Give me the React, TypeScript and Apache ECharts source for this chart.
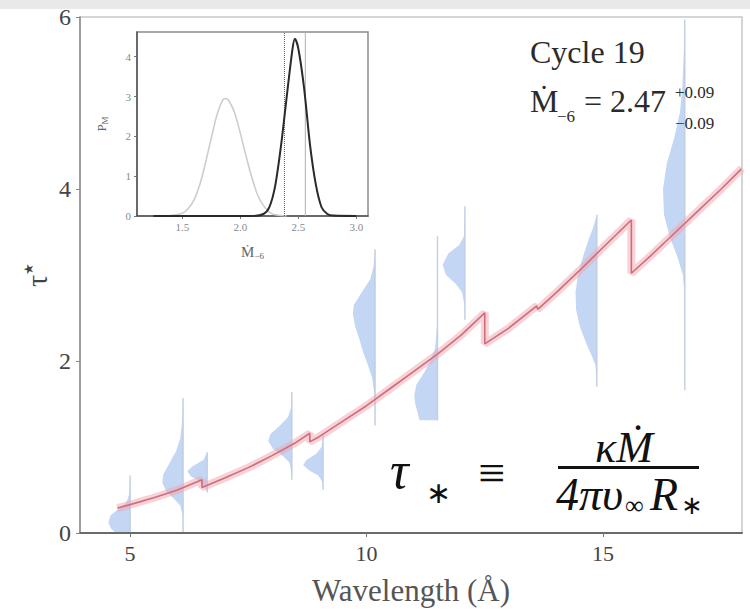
import React, { useEffect, useRef } from "react";
import * as echarts from "echarts";

const SERIF = "Liberation Serif";

// Main axes
const xTicks = [5, 10, 15];
const yTicks = [0, 2, 4, 6];

// Model curve tau(lambda) with absorption edges
const modelWavelength = [4.73, 5.0, 5.5, 6.0, 6.52, 6.52, 7.0, 7.5, 8.0, 8.5, 8.8, 8.8, 9.0, 9.5, 10.0, 10.5, 11.0, 11.5, 12.0, 12.5, 12.5, 13.0, 13.6, 13.62, 14.0, 14.5, 15.0, 15.6, 15.6, 16.0, 16.5, 17.0, 17.5, 17.94];
const modelTau = [0.29, 0.33, 0.41, 0.5, 0.62, 0.53, 0.64, 0.76, 0.9, 1.05, 1.16, 1.06, 1.12, 1.3, 1.48, 1.68, 1.88, 2.08, 2.3, 2.56, 2.2, 2.38, 2.64, 2.6, 2.79, 3.05, 3.32, 3.64, 3.02, 3.22, 3.48, 3.74, 4.0, 4.24];

// Half-violin posteriors per line
const violinCenters = [5.0, 6.12, 6.63, 8.42, 9.08, 10.18, 11.5, 12.08, 14.87, 16.73];
const violinLineLow = [0, 0, 0.47, 0.62, 0.5, 1.25, 1.31, 2.48, 1.7, 1.66];
const violinLineHigh = [0.67, 1.57, 0.94, 1.64, 1.14, 3.3, 3.45, 3.8, 3.7, 5.97];
const violinProfiles: number[][][] = [
  [[0.67, 0], [0.45, 0.02], [0.35, 0.08], [0.28, 0.25], [0.2, 0.42], [0.12, 0.46], [0.05, 0.4], [0, 0.3]],
  [[1.57, 0], [1.3, 0.02], [1.1, 0.06], [0.95, 0.15], [0.8, 0.3], [0.68, 0.42], [0.58, 0.44], [0.48, 0.35], [0.4, 0.2], [0.32, 0.06], [0.2, 0.01], [0, 0]],
  [[0.94, 0], [0.85, 0.08], [0.78, 0.3], [0.72, 0.42], [0.66, 0.35], [0.6, 0.15], [0.52, 0.03], [0.47, 0]],
  [[1.64, 0], [1.45, 0.02], [1.35, 0.08], [1.25, 0.25], [1.15, 0.45], [1.07, 0.5], [0.98, 0.4], [0.9, 0.2], [0.82, 0.05], [0.7, 0.01], [0.62, 0]],
  [[1.14, 0], [1.0, 0.03], [0.92, 0.15], [0.85, 0.35], [0.79, 0.42], [0.73, 0.3], [0.67, 0.1], [0.6, 0.02], [0.5, 0]],
  [[3.3, 0], [3.1, 0.03], [2.95, 0.1], [2.8, 0.28], [2.65, 0.45], [2.55, 0.47], [2.4, 0.42], [2.25, 0.33], [2.1, 0.25], [1.95, 0.15], [1.8, 0.06], [1.6, 0.01], [1.25, 0]],
  [[3.45, 0], [2.4, 0.01], [2.15, 0.05], [2.0, 0.15], [1.85, 0.3], [1.72, 0.45], [1.6, 0.49], [1.5, 0.47], [1.4, 0.42], [1.31, 0.38], [1.31, 0]],
  [[3.8, 0], [3.45, 0.02], [3.35, 0.12], [3.25, 0.35], [3.12, 0.47], [3.0, 0.4], [2.9, 0.2], [2.8, 0.06], [2.65, 0.01], [2.48, 0]],
  [[3.7, 0], [3.55, 0.08], [3.4, 0.18], [3.2, 0.3], [3.0, 0.4], [2.8, 0.45], [2.6, 0.44], [2.4, 0.36], [2.2, 0.22], [2.05, 0.1], [1.95, 0.03], [1.7, 0]],
  [[5.97, 0], [5.6, 0.02], [5.2, 0.05], [4.9, 0.1], [4.6, 0.22], [4.3, 0.38], [4.0, 0.46], [3.7, 0.44], [3.45, 0.32], [3.2, 0.15], [3.0, 0.04], [2.8, 0.01], [1.66, 0]],
];

// Inset: posterior of Mdot
const insetXTicks = [1.5, 2.0, 2.5, 3.0];
const insetYTicks = [0, 1, 2, 3, 4];
const priorX = [1.25, 1.4, 1.5, 1.55, 1.6, 1.65, 1.7, 1.75, 1.8, 1.85, 1.87, 1.9, 1.95, 2.0, 2.05, 2.1, 2.15, 2.2, 2.25, 2.3, 2.4];
const priorY = [0, 0.01, 0.07, 0.18, 0.4, 0.78, 1.33, 1.96, 2.55, 2.92, 2.95, 2.9, 2.6, 2.08, 1.5, 0.96, 0.52, 0.26, 0.1, 0.03, 0];
const postX = [1.25, 1.6, 2.1, 2.2, 2.25, 2.3, 2.35, 2.4, 2.45, 2.47, 2.5, 2.55, 2.6, 2.65, 2.7, 2.75, 2.8, 3.0];
const postY = [0, 0, 0, 0.05, 0.22, 0.75, 1.75, 3.0, 4.2, 4.45, 4.2, 3.2, 1.8, 0.8, 0.22, 0.05, 0.01, 0];
const postLow = 2.38;
const postHigh = 2.56;

const VIOLIN_FILL = "rgba(172,198,240,0.72)";
const VIOLIN_LINE = "rgba(192,204,224,0.9)";

export default function App() {
  const ref = useRef<HTMLDivElement>(null);
  useEffect(() => {
    if (!ref.current) return;
    const chart = echarts.init(ref.current, null, { renderer: "svg" });

    const zip = (a: number[], b: number[]) => a.map((v, i) => [v, b[i]]);

    const txt = (text: string, x: number, y: number, size: number, opts: any = {}) => ({
      type: "text",
      x,
      y,
      z: 100,
      style: {
        text,
        fontFamily: SERIF,
        fontSize: size,
        fontStyle: opts.italic ? "italic" : "normal",
        fill: opts.fill || "#2b2b2b",
        align: opts.align || "left",
        verticalAlign: "middle",
      },
    });

    const option: any = {
      animation: false,
      backgroundColor: "#ffffff",
      textStyle: { fontFamily: SERIF },
      grid: [
        { left: 80, top: 17, right: 8, bottom: 78, show: true, borderColor: "#c8c8c8", borderWidth: 1.5, z: 95 },
        { left: 137, top: 32, width: 231, height: 184, show: true, borderColor: "#8a8a8a", borderWidth: 1.5, backgroundColor: "#fff" },
      ],
      xAxis: [
        {
          type: "value",
          gridIndex: 0,
          z: 96,
          min: 3.94,
          max: 17.94,
          name: "Wavelength (Å)",
          nameLocation: "middle",
          nameGap: 42,
          nameTextStyle: { fontFamily: SERIF, fontSize: 31, color: "#555" },
          axisLine: { lineStyle: { color: "#6a6a6a", width: 2 } },
          axisTick: { customValues: xTicks, length: 4, lineStyle: { color: "#777" } },
          axisLabel: { customValues: xTicks, fontFamily: SERIF, fontSize: 22, color: "#444", margin: 9 },
          splitLine: { show: false },
        },
        {
          type: "value",
          gridIndex: 1,
          min: 1.11,
          max: 3.1,
          name: "{a|Ṁ}{b|−6}",
          nameLocation: "middle",
          nameGap: 27,
          nameTextStyle: {
            rich: {
              a: { fontFamily: SERIF, fontSize: 15, color: "#666" },
              b: { fontFamily: SERIF, fontSize: 9, color: "#666", padding: [8, 0, 0, 0] },
            },
          },
          axisLine: { lineStyle: { color: "#555", width: 1.5 } },
          axisTick: { customValues: insetXTicks, length: 3, lineStyle: { color: "#777" } },
          axisLabel: { customValues: insetXTicks, formatter: (v: number) => v.toFixed(1), fontFamily: SERIF, fontSize: 11, color: "#888", margin: 5 },
          splitLine: { show: false },
        },
      ],
      yAxis: [
        {
          type: "value",
          gridIndex: 0,
          z: 96,
          min: 0,
          max: 6,
          interval: 2,
          name: "{a|τ}{b|★}",
          nameLocation: "middle",
          nameRotate: 90,
          nameGap: 29,
          nameMoveOverlap: false,
          nameTextStyle: {
            rich: {
              a: { fontFamily: SERIF, fontSize: 30, color: "#444" },
              b: { fontFamily: SERIF, fontSize: 13, color: "#444", padding: [0, 0, 16, 0] },
            },
          },
          axisLine: { show: true, lineStyle: { color: "#8a8a8a", width: 1.5 } },
          axisTick: { show: true, length: 4, lineStyle: { color: "#888" } },
          axisLabel: { customValues: yTicks, fontFamily: SERIF, fontSize: 24, color: "#444", margin: 9 },
          splitLine: { show: false },
        },
        {
          type: "value",
          gridIndex: 1,
          min: 0,
          max: 4.62,
          name: "{a|P}{b|M}",
          nameLocation: "middle",
          nameRotate: 90,
          nameGap: 28,
          nameTextStyle: {
            rich: {
              a: { fontFamily: SERIF, fontSize: 13, color: "#666" },
              b: { fontFamily: SERIF, fontSize: 9, color: "#666", padding: [6, 0, 0, 0] },
            },
          },
          axisLine: { show: true, lineStyle: { color: "#555", width: 1.5 } },
          axisTick: { show: true, customValues: insetYTicks, length: 3, lineStyle: { color: "#777" } },
          axisLabel: { customValues: insetYTicks, fontFamily: SERIF, fontSize: 11, color: "#888", margin: 6 },
          splitLine: { show: false },
        },
      ],
      series: [
        {
          type: "custom",
          xAxisIndex: 0,
          yAxisIndex: 0,
          z: 1,
          clip: true,
          data: violinCenters.map((c, i) => [c, violinLineHigh[i]]),
          encode: { x: 0, y: 1 },
          renderItem: (params: any, api: any) => {
            const i = params.dataIndex;
            const c = violinCenters[i];
            const prof = violinProfiles[i];
            const pts = prof.map(([t, w]) => api.coord([c - w, t]));
            pts.push(api.coord([c, prof[prof.length - 1][0]]));
            const top = api.coord([c, violinLineHigh[i]]);
            const bot = api.coord([c, violinLineLow[i]]);
            return {
              type: "group",
              children: [
                { type: "polygon", shape: { points: pts }, style: { fill: VIOLIN_FILL } },
                { type: "line", shape: { x1: top[0], y1: top[1], x2: bot[0], y2: bot[1] }, style: { stroke: VIOLIN_LINE, lineWidth: 1.5 } },
              ],
            };
          },
        },
        {
          type: "line",
          xAxisIndex: 0,
          yAxisIndex: 0,
          z: 3,
          data: zip(modelWavelength, modelTau),
          symbol: "none",
          lineStyle: { color: "rgba(240,165,175,0.5)", width: 8 },
        },
        {
          type: "line",
          xAxisIndex: 0,
          yAxisIndex: 0,
          z: 4,
          data: zip(modelWavelength, modelTau),
          symbol: "none",
          lineStyle: { color: "#cf6d7c", width: 1.6 },
        },
        {
          type: "line",
          xAxisIndex: 1,
          yAxisIndex: 1,
          data: zip(priorX, priorY),
          symbol: "none",
          smooth: 0.3,
          lineStyle: { color: "#cdcdcd", width: 1.6 },
        },
        {
          type: "line",
          xAxisIndex: 1,
          yAxisIndex: 1,
          data: [[postLow, 0], [postLow, 4.62]],
          symbol: "none",
          lineStyle: { color: "#555", width: 1, type: "dotted" },
        },
        {
          type: "line",
          xAxisIndex: 1,
          yAxisIndex: 1,
          data: [[postHigh, 0], [postHigh, 4.62]],
          symbol: "none",
          lineStyle: { color: "#b0b0b0", width: 1 },
        },
        {
          type: "line",
          xAxisIndex: 1,
          yAxisIndex: 1,
          data: zip(postX, postY),
          symbol: "none",
          smooth: 0.3,
          lineStyle: { color: "#2a2a2a", width: 2 },
        },
      ],
      graphic: [
        { type: "rect", z: 100, shape: { x: 0, y: 0, width: 750, height: 9 }, style: { fill: "#e9e9e9" } },
        // annotation
        txt("Cycle 19", 530, 52, 32),
        txt("Ṁ", 530, 101, 32),
        txt("−6", 557, 116, 17),
        txt("= 2.47", 584, 101, 32),
        txt("+0.09", 675, 92, 17),
        txt("−0.09", 675, 123, 17),
        // formula box
        { type: "rect", z: 90, shape: { x: 381, y: 421, width: 359, height: 109 }, style: { fill: "#ffffff" } },
        txt("τ", 390, 470, 52, { italic: true, fill: "#111" }),
        txt("∗", 426, 492, 30, { fill: "#111" }),
        txt("≡", 478, 472, 48, { fill: "#111" }),
        txt("κṀ", 624, 447, 44, { italic: true, fill: "#111", align: "center" }),
        { type: "rect", z: 100, shape: { x: 558, y: 466, width: 141, height: 3 }, style: { fill: "#111" } },
        txt("4πυ", 556, 494, 46, { italic: true, fill: "#111" }),
        txt("∞", 625, 505, 26, { fill: "#111" }),
        txt("R", 650, 494, 46, { italic: true, fill: "#111" }),
        txt("∗", 681, 505, 26, { fill: "#111" }),
      ],
    };

    chart.setOption(option);
    return () => chart.dispose();
  }, []);

  return <div ref={ref} style={{ position: "absolute", left: 0, top: 0, width: 750, height: 611 }} />;
}
